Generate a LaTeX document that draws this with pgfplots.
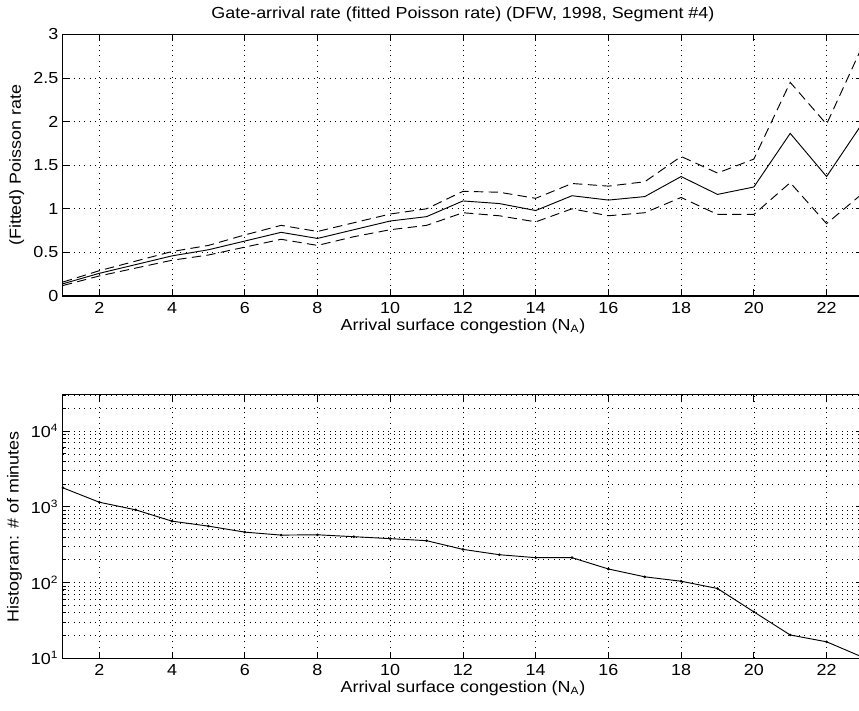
\documentclass[border=0pt]{standalone}
\usepackage{fontspec}
\setmainfont{Liberation Sans}[FakeStretch=1.12]
\usepackage{pgfplots}
\pgfplotsset{compat=1.18}
\pgfplotsset{
  mstyle/.style={
    scale only axis, width=600pt,
    xmin=1, xmax=23, xtick={2,4,...,22},
    tick align=inside, major tick length=5pt, minor tick length=2.5pt,
    xmajorgrids, ymajorgrids,
    grid style={black, line width=0.5pt, dash pattern=on 0.6pt off 3.4pt},
    axis line style={line width=0.8pt},
    every tick/.style={line width=0.6pt, black},
    /pgf/number format/assume math mode=true,
    tick label style={font=\fontsize{12}{14}\selectfont},
    xticklabel style={yshift=-1pt},
    label style={font=\fontsize{12}{14}\selectfont},
    title style={font=\fontsize{12}{14}\selectfont},
    xlabel={Arrival surface congestion (N\textsubscript{A})},
    xlabel style={yshift=3pt},
  }
}
\begin{document}
\begin{tikzpicture}[x=1pt,y=1pt]
\useasboundingbox (0,0) rectangle (644.25,532.5);
\begin{axis}[mstyle, height=196.2pt,
  at={(47.2pt,310.5pt)}, anchor=south west,
  ymin=0, ymax=3, ytick={0,0.5,1,1.5,2,2.5,3},
  ylabel={(Fitted) Poisson rate},
  title={Gate-arrival rate (fitted Poisson rate) (DFW, 1998, Segment \#4)},
]
\addplot[black, line width=0.7pt] coordinates {
(1,0.14) (2,0.26) (3,0.36) (4,0.46) (5,0.53) (6,0.63) (7,0.73) (8,0.66) (9,0.76) (10,0.86) (11,0.91)
(12,1.09) (13,1.06) (14,0.98) (15,1.15) (16,1.10) (17,1.14) (18,1.37) (19,1.165) (20,1.25)
(21,1.865) (22,1.37) (23,1.99)};
\addplot[black, line width=0.7pt, dash pattern=on 7pt off 4pt] coordinates {
(1,0.16) (2,0.29) (3,0.40) (4,0.51) (5,0.58) (6,0.70) (7,0.81) (8,0.74) (9,0.84) (10,0.94) (11,1.00)
(12,1.20) (13,1.19) (14,1.12) (15,1.29) (16,1.26) (17,1.31) (18,1.60) (19,1.41) (20,1.57)
(21,2.45) (22,1.97) (23,2.88)};
\addplot[black, line width=0.7pt, dash pattern=on 7pt off 4pt] coordinates {
(1,0.12) (2,0.23) (3,0.32) (4,0.41) (5,0.47) (6,0.56) (7,0.65) (8,0.58) (9,0.68) (10,0.76) (11,0.81)
(12,0.955) (13,0.92) (14,0.85) (15,1.00) (16,0.92) (17,0.955) (18,1.13) (19,0.935) (20,0.935)
(21,1.30) (22,0.83) (23,1.18)};
\end{axis}
\begin{axis}[mstyle, height=197.5pt,
  at={(47.2pt,38.8pt)}, anchor=south west,
  ymode=log, ymin=10, ymax=30000,
  ytick={10,100,1000,10000},
  yticklabels={10\textsuperscript{1},10\textsuperscript{2},10\textsuperscript{3},10\textsuperscript{4}},
  minor ytick={20,30,40,50,60,70,80,90,200,300,400,500,600,700,800,900,2000,3000,4000,5000,6000,7000,8000,9000,20000,30000},
  yminorgrids, minor grid style={black, line width=0.5pt, dash pattern=on 0.6pt off 3.4pt},
  ylabel={Histogram: \# of minutes},
]
\addplot[black, line width=0.7pt, mark=*, mark size=0.6pt] coordinates {
(1,1780) (2,1150) (3,912) (4,646) (5,556) (6,463) (7,423) (8,427) (9,403) (10,380) (11,357)
(12,274) (13,233) (14,213) (15,213) (16,151) (17,119) (18,104) (19,83.4) (20,41)
(21,20.3) (22,16.5) (23,10.3)};
\end{axis}
\end{tikzpicture}
\end{document}
